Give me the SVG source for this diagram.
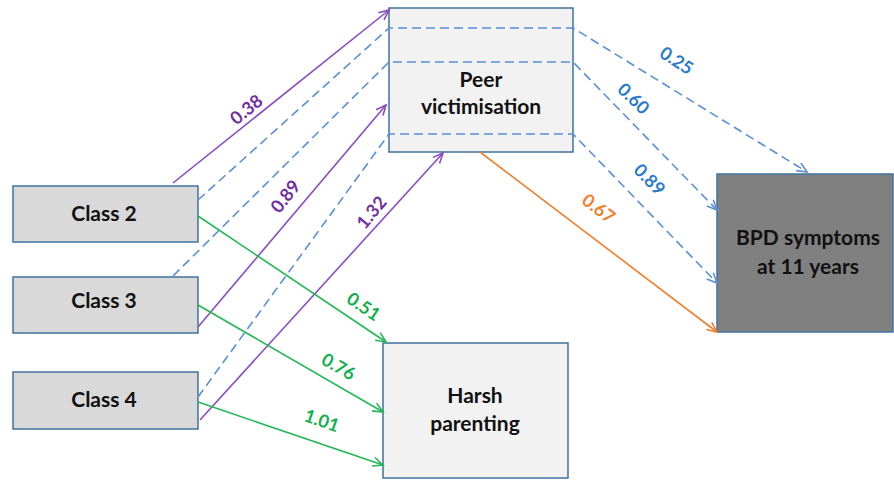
<svg xmlns="http://www.w3.org/2000/svg" width="894" height="481" viewBox="0 0 894 481">
<style>
.box{stroke:#41719c;stroke-width:1.5}
.nt{font-family:Lato,"Liberation Sans",sans-serif;font-weight:bold;font-size:21px;fill:#111;text-anchor:middle}
.lb{font-family:Lato,"Liberation Sans",sans-serif;font-weight:bold;font-size:18px;text-anchor:middle;dominant-baseline:central}
.pu{stroke:#8a4cc2;stroke-width:1.6;fill:none}
.bl{stroke:#5b8fd6;stroke-width:1.6;fill:none;stroke-dasharray:9 5}
.gr{stroke:#22b854;stroke-width:1.6;fill:none}
.or{stroke:#ef7f2c;stroke-width:1.6;fill:none}
</style>
<defs>
<marker id="mp" markerUnits="userSpaceOnUse" markerWidth="14" markerHeight="12" refX="11" refY="5" orient="auto"><path d="M1,0.5 L11,5 L1,9.5" fill="none" stroke="#8a4cc2" stroke-width="1.6"/></marker>
<marker id="mb" markerUnits="userSpaceOnUse" markerWidth="14" markerHeight="12" refX="11" refY="5" orient="auto"><path d="M1,0.5 L11,5 L1,9.5" fill="none" stroke="#5b8fd6" stroke-width="1.6"/></marker>
<marker id="mg" markerUnits="userSpaceOnUse" markerWidth="14" markerHeight="12" refX="11" refY="5" orient="auto"><path d="M1,0.5 L11,5 L1,9.5" fill="none" stroke="#22b854" stroke-width="1.6"/></marker>
<marker id="mo" markerUnits="userSpaceOnUse" markerWidth="14" markerHeight="12" refX="11" refY="5" orient="auto"><path d="M1,0.5 L11,5 L1,9.5" fill="none" stroke="#ef7f2c" stroke-width="1.6"/></marker>
</defs>
<rect width="894" height="481" fill="#ffffff"/>
<g id="class2"><rect class="box" x="13" y="186" width="185" height="56" fill="#d9d9d9"/><text class="nt" x="104" y="221">Class 2</text></g>
<g id="class3"><rect class="box" x="13" y="277" width="185" height="56" fill="#d9d9d9"/><text class="nt" x="104" y="308">Class 3</text></g>
<g id="class4"><rect class="box" x="13" y="372" width="185" height="57" fill="#d9d9d9"/><text class="nt" x="104" y="407">Class 4</text></g>
<g id="peer"><rect class="box" x="389" y="8" width="184" height="144" fill="#f2f2f2"/><text class="nt" x="481" y="87">Peer</text><text class="nt" x="481" y="114">victimisation</text></g>
<g id="harsh"><rect class="box" x="383" y="343" width="185" height="135" fill="#f2f2f2"/><text class="nt" x="475" y="403">Harsh</text><text class="nt" x="475" y="431">parenting</text></g>
<g id="bpd"><rect class="box" x="717" y="174" width="176" height="158" fill="#808080"/><text class="nt" x="808" y="245">BPD symptoms</text><text class="nt" x="808" y="274">at 11 years</text></g>
<g id="connectors">
<path class="pu" d="M173,183 L389,10" marker-end="url(#mp)"/>
<path class="pu" d="M198,327 L386,105" marker-end="url(#mp)"/>
<path class="pu" d="M200,420 L443,153" marker-end="url(#mp)"/>
<path class="bl" d="M198,200 L389,28 L573,28 L807,172" marker-end="url(#mb)"/>
<path class="bl" d="M173,276 L389,62 L573,62 L717,210" marker-end="url(#mb)"/>
<path class="bl" d="M198,397 L389,134 L573,134 L717,283" marker-end="url(#mb)"/>
<path class="or" d="M480,152 L717,332" marker-end="url(#mo)"/>
<path class="gr" d="M198,216 L386,342" marker-end="url(#mg)"/>
<path class="gr" d="M198,305 L383,412" marker-end="url(#mg)"/>
<path class="gr" d="M198,402 L383,465" marker-end="url(#mg)"/>
<g fill="#7030a0">
<text class="lb" x="246" y="109" transform="rotate(-39 246 109)">0.38</text>
<text class="lb" x="285" y="196" transform="rotate(-52 285 196)">0.89</text>
<text class="lb" x="371" y="212" transform="rotate(-50 371 212)">1.32</text>
</g>
<g fill="#2a7bcc">
<text class="lb" x="677" y="60" transform="rotate(33 677 60)">0.25</text>
<text class="lb" x="634" y="98" transform="rotate(44 634 98)">0.60</text>
<text class="lb" x="650" y="179" transform="rotate(45 650 179)">0.89</text>
</g>
<text class="lb" fill="#ef7f2c" x="599" y="208" transform="rotate(37 599 208)">0.67</text>
<g fill="#12b04e">
<text class="lb" x="364" y="306" transform="rotate(34 364 306)">0.51</text>
<text class="lb" x="339" y="366" transform="rotate(30 339 366)">0.76</text>
<text class="lb" x="322" y="420" transform="rotate(19 322 420)">1.01</text>
</g>
</g>
</svg>
